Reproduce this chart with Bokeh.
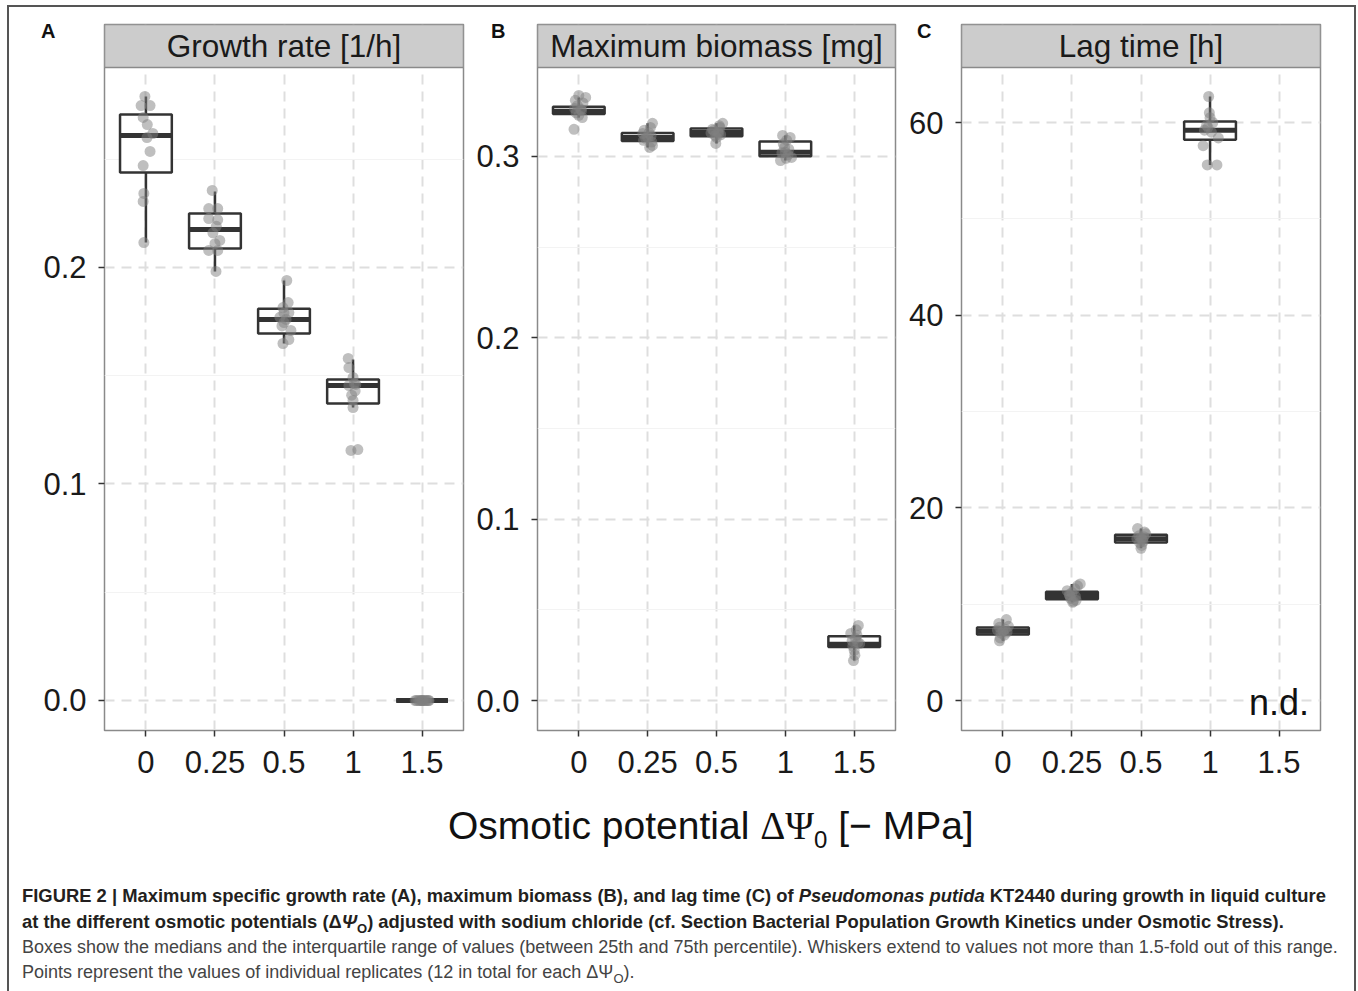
from bokeh.plotting import figure
from bokeh.models import Range1d, FixedTicker, Div, PrintfTickFormatter, InlineStyleSheet
from bokeh.layouts import row, column
from bokeh.embed import file_html
from bokeh.resources import INLINE
from bokeh.core.properties import value

# ---------------- data ----------------
categories = ["0", "0.25", "0.5", "1", "1.5"]

growth_values = [
    [0.279, 0.2748, 0.2748, 0.2693, 0.266, 0.2619, 0.2600, 0.2536, 0.2471, 0.2342, 0.2305, 0.2115],
    [0.2356, 0.2272, 0.2272, 0.2226, 0.222, 0.219, 0.216, 0.2125, 0.211, 0.2079, 0.2079, 0.1982],
    [0.194, 0.1838, 0.1815, 0.1792, 0.179, 0.177, 0.176, 0.1746, 0.173, 0.1709, 0.1667, 0.1649],
    [0.158, 0.1538, 0.1492, 0.1464, 0.146, 0.1455, 0.143, 0.141, 0.1386, 0.1353, 0.1159, 0.1155],
    [0.0, 0.0, 0.0, 0.0, 0.0, 0.0, 0.0, 0.0, 0.0, 0.0, 0.0, 0.0],
]
growth_jitter = [
    [-0.015, -0.07, 0.06, -0.04, 0.02, 0.10, 0.015, 0.06, -0.04, -0.03, -0.04, -0.03],
    [-0.04, -0.09, 0.04, -0.09, 0.04, 0.02, -0.03, 0.07, 0.0, -0.09, 0.04, 0.015],
    [0.04, 0.06, -0.015, 0.07, 0.0, -0.06, 0.03, 0.0, -0.03, 0.1, 0.07, -0.015],
    [-0.07, -0.06, 0.0, 0.02, 0.04, -0.06, 0.03, -0.02, 0.0, 0.0, 0.07, -0.03],
    [-0.1, -0.08, -0.05, -0.03, -0.01, 0.0, 0.01, 0.03, 0.05, 0.07, 0.09, 0.1],
]
growth_q1 = [0.2439, 0.2088, 0.1695, 0.1372, 0.0]
growth_med = [0.2610, 0.2176, 0.1760, 0.1455, 0.0]
growth_q3 = [0.2707, 0.2250, 0.1810, 0.1483, 0.0]
growth_lo = [0.2115, 0.1982, 0.1649, 0.1353, 0.0]
growth_hi = [0.2790, 0.2351, 0.1940, 0.1575, 0.0]

biomass_values = [
    [0.3337, 0.3326, 0.331, 0.3295, 0.328, 0.3265, 0.326, 0.3254, 0.324, 0.3227, 0.3215, 0.315],
    [0.3183, 0.316, 0.3145, 0.313, 0.3127, 0.3115, 0.3105, 0.310, 0.3089, 0.308, 0.3061, 0.305],
    [0.3183, 0.317, 0.316, 0.3150, 0.3144, 0.3135, 0.313, 0.3127, 0.312, 0.3116, 0.3105, 0.3072],
    [0.3116, 0.3105, 0.309, 0.307, 0.305, 0.304, 0.3023, 0.302, 0.301, 0.2995, 0.299, 0.2978],
    [0.0414, 0.039, 0.037, 0.036, 0.0342, 0.033, 0.032, 0.0314, 0.030, 0.0276, 0.025, 0.022],
]
biomass_jitter = [
    [0.0, 0.1, -0.05, 0.06, -0.02, -0.06, 0.03, 0.04, -0.04, 0.0, 0.05, -0.07],
    [0.07, 0.04, -0.05, 0.02, -0.07, 0.05, 0.0, -0.03, -0.06, 0.06, 0.07, 0.03],
    [0.09, 0.04, 0.05, -0.06, -0.04, 0.02, -0.08, 0.03, 0.06, -0.02, 0.0, -0.01],
    [-0.04, 0.07, 0.02, -0.03, -0.01, 0.05, 0.0, -0.05, 0.04, 0.09, 0.01, -0.07],
    [0.06, 0.03, -0.05, 0.04, 0.02, -0.03, 0.05, 0.08, -0.02, 0.0, 0.01, -0.01],
]
biomass_q1 = [0.3235, 0.3085, 0.3111, 0.3001, 0.0295]
biomass_med = [0.3250, 0.3105, 0.3133, 0.3023, 0.0310]
biomass_q3 = [0.3275, 0.3130, 0.3155, 0.3083, 0.0355]
biomass_lo = [0.3215, 0.3050, 0.3072, 0.2978, 0.0220]
biomass_hi = [0.3326, 0.3183, 0.3183, 0.3116, 0.0414]

lag_values = [
    [8.4, 8.0, 7.7, 7.6, 7.4, 7.3, 7.2, 7.1, 7.0, 6.8, 6.5, 6.2],
    [12.1, 11.9, 11.6, 11.4, 11.2, 11.0, 10.9, 10.8, 10.6, 10.4, 10.3, 10.2],
    [17.85, 17.5, 17.3, 17.1, 17.0, 16.9, 16.8, 16.7, 16.5, 16.4, 16.1, 15.8],
    [62.7, 61.0, 60.5, 60.0, 59.7, 59.5, 59.2, 59.0, 58.4, 57.6, 55.6, 55.6],
    [],
]
lag_jitter = [
    [0.05, -0.06, 0.08, -0.05, 0.03, -0.08, 0.0, 0.06, -0.03, 0.02, -0.04, -0.05],
    [0.12, 0.08, 0.04, -0.07, 0.0, -0.04, -0.03, 0.05, -0.02, 0.06, 0.02, 0.01],
    [-0.05, 0.05, 0.07, -0.03, 0.04, 0.0, -0.06, 0.02, 0.03, -0.02, 0.01, 0.0],
    [-0.02, -0.01, 0.0, 0.04, -0.05, -0.03, -0.08, 0.02, 0.12, -0.1, -0.04, 0.1],
    [],
]
lag_q1 = [6.85, 10.5, 16.4, 58.2, None]
lag_med = [7.2, 10.9, 16.8, 59.2, None]
lag_q3 = [7.58, 11.3, 17.2, 60.1, None]
lag_lo = [6.2, 10.2, 15.8, 55.6, None]
lag_hi = [8.4, 12.1, 17.85, 62.7, None]

strip_titles = ["Growth rate [1/h]", "Maximum biomass [mg]", "Lag time [h]"]
panel_letters = ["A", "B", "C"]
growth_ticks = [0.0, 0.1, 0.2]
growth_minor = [0.05, 0.15, 0.25]
biomass_ticks = [0.0, 0.1, 0.2, 0.3]
biomass_minor = [0.05, 0.15, 0.25]
lag_ticks = [0, 20, 40, 60]
lag_minor = [10, 30, 50]

# ---------------- styling ----------------
FONT = "Liberation Sans"
FRAME_H = 706
STRIP_PX = 43
BOX_HALF = 0.375
BOX_COLOR = "#333333"
GRID_COLOR = "#DEDEDE"
BORDER_COLOR = "#8A8A8A"


def make_panel(title, values, jitter, q1, med, q3, lo, hi,
               ticks, minor, fmt, ymin, ytop, min_left, frame_w, min_right, nd=False):
    panel_h = FRAME_H - STRIP_PX
    px_per_unit = panel_h / (ytop - ymin)
    yend = ytop + STRIP_PX / px_per_unit
    p = figure(frame_width=frame_w, frame_height=FRAME_H,
               min_border_left=min_left, min_border_right=min_right,
               min_border_top=24, min_border_bottom=60,
               x_range=Range1d(0.4, 5.6), y_range=Range1d(ymin, yend),
               output_backend="svg", toolbar_location=None, tools="")
    p.background_fill_color = "white"
    p.border_fill_color = "white"
    p.outline_line_color = BORDER_COLOR
    p.outline_line_width = 1.5

    xs = list(range(1, len(categories) + 1))
    p.xaxis.ticker = FixedTicker(ticks=xs)
    p.xaxis.major_label_overrides = {x: c for x, c in zip(xs, categories)}
    p.yaxis.ticker = FixedTicker(ticks=ticks, minor_ticks=minor)
    p.yaxis.formatter = PrintfTickFormatter(format=fmt)
    for ax in (p.xaxis, p.yaxis):
        ax.axis_line_color = None
        ax.major_tick_line_color = "#333333"
        ax.major_tick_line_width = 1.5
        ax.major_tick_out = 6
        ax.major_tick_in = 0
        ax.minor_tick_line_color = None
        ax.major_label_text_font = FONT
        ax.major_label_text_font_size = "31px"
        ax.major_label_text_color = "#1a1a1a"
    p.yaxis.major_label_standoff = 12
    p.xaxis.major_label_standoff = 14

    p.xgrid.ticker = FixedTicker(ticks=xs)
    p.ygrid.ticker = FixedTicker(ticks=ticks, minor_ticks=minor)
    p.grid.grid_line_color = GRID_COLOR
    p.grid.grid_line_width = 2
    p.grid.grid_line_dash = "10 7"
    p.ygrid.minor_grid_line_color = "#F3F3F3"
    p.ygrid.minor_grid_line_width = 1

    # boxes
    bx, bq1, bmed, bq3, blo, bhi = [], [], [], [], [], []
    for x, a, m, b, l, h in zip(xs, q1, med, q3, lo, hi):
        if a is None:
            continue
        bx.append(x); bq1.append(a); bmed.append(m); bq3.append(b); blo.append(l); bhi.append(h)
    p.segment(x0=bx, y0=bq3, x1=bx, y1=bhi, line_color=BOX_COLOR, line_width=2.5)
    p.segment(x0=bx, y0=bq1, x1=bx, y1=blo, line_color=BOX_COLOR, line_width=2.5)
    p.quad(left=[x - BOX_HALF for x in bx], right=[x + BOX_HALF for x in bx],
           bottom=bq1, top=bq3, fill_color="white", line_color=BOX_COLOR, line_width=2.5)
    p.segment(x0=[x - BOX_HALF for x in bx], x1=[x + BOX_HALF for x in bx],
              y0=bmed, y1=bmed, line_color=BOX_COLOR, line_width=5)

    # points
    px, py = [], []
    for x, vals, jit in zip(xs, values, jitter):
        for v, j in zip(vals, jit):
            px.append(x + j)
            py.append(v)
    p.scatter(px, py, size=11, fill_color="#7F7F7F", fill_alpha=0.5, line_color=None)

    # strip
    p.quad(left=[0.4], right=[5.6], bottom=[ytop], top=[yend],
           fill_color="#CCCCCC", line_color=BORDER_COLOR, line_width=1.5)
    p.text(x=[3], y=[(ytop + yend) / 2], text=[title], text_font=value(FONT),
           text_font_size="31.5px", text_align="center", text_baseline="middle",
           text_color="#1a1a1a")

    if nd:
        p.text(x=[5], y=[0 - 2 / px_per_unit], text=["n.d."], text_font=value(FONT),
               text_font_size="36px", text_align="center", text_baseline="alphabetic",
               text_color="#111111")
    return p


pA = make_panel(strip_titles[0], growth_values, growth_jitter,
                growth_q1, growth_med, growth_q3, growth_lo, growth_hi,
                growth_ticks, growth_minor, "%.1f", -0.01386, 0.29238, 104, 359, 10)
pB = make_panel(strip_titles[1], biomass_values, biomass_jitter,
                biomass_q1, biomass_med, biomass_q3, biomass_lo, biomass_hi,
                biomass_ticks, biomass_minor, "%.1f", -0.01654, 0.34908, 64, 358, 2)
pC = make_panel(strip_titles[2], lag_values, lag_jitter,
                lag_q1, lag_med, lag_q3, lag_lo, lag_hi,
                lag_ticks, lag_minor, "%d", -3.114, 65.71, 64, 359, 38, nd=True)

letter_style = ("position:absolute;top:-769px;font-family:'Liberation Sans';font-size:20px;"
                "font-weight:bold;line-height:20px;color:#111")
letters_html = "".join(
    f"<span style=\"{letter_style};left:{left}px\">{t}</span>"
    for t, left in zip(panel_letters, [41, 491, 917]))

xlabel = Div(text=(
    "<div style=\"position:relative;width:1358px;height:83px\">" + letters_html +
    "<div style=\"position:absolute;left:448px;top:0;font-family:'Liberation Sans';font-size:39px;"
    "line-height:72px;white-space:nowrap;color:#111\">Osmotic potential "
    "<span style=\"font-family:'Liberation Serif'\">&Delta;&Psi;</span>"
    "<sub style='font-size:24px;line-height:0'>0</sub> [&minus; MPa]</div></div>"),
    width=1358, height=83, margin=0)

caption = Div(text=(
    "<div style=\"font-family:'Liberation Sans';font-size:18px;line-height:25px;"
    "padding-left:22px;padding-top:10px;white-space:nowrap;color:#444\">"
    "<b style='color:#231F20;font-size:18.4px;line-height:25px'>FIGURE 2 | Maximum specific growth rate (A), maximum biomass (B), and lag time (C) of "
    "<i>Pseudomonas putida</i> KT2440 during growth in liquid culture</b><br>"
    "<b style='color:#231F20;font-size:18.4px;line-height:25px'>at the different osmotic potentials (&Delta;<i>&Psi;</i><sub style='line-height:0;font-size:13px'>O</sub>) "
    "adjusted with sodium chloride (cf. Section Bacterial Population Growth Kinetics under Osmotic Stress).</b><br>"
    "Boxes show the medians and the interquartile range of values (between 25th and 75th percentile). "
    "Whiskers extend to values not more than 1.5-fold out of this range.<br>"
    "Points represent the values of individual replicates (12 in total for each &Delta;&Psi;"
    "<sub style='line-height:0;font-size:13px'>O</sub>).</div>"),
    width=1358, height=118, margin=0)

frame_css = InlineStyleSheet(css=(
    ":host::after{content:'';position:absolute;left:7px;top:5px;width:1349px;height:992px;"
    "border:2px solid #555;box-sizing:border-box;pointer-events:none;}"))

layout = column(row(pA, pB, pC), xlabel, caption, stylesheets=[frame_css])

open("out.html", "w").write(file_html(layout, INLINE))
